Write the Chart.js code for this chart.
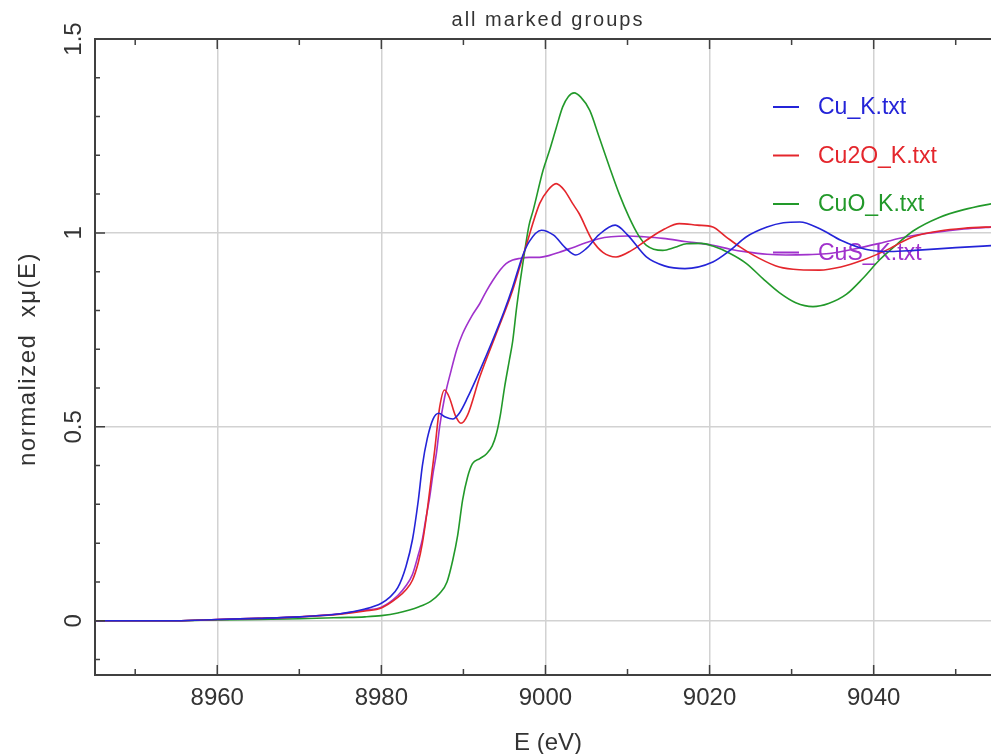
<!DOCTYPE html>
<html>
<head>
<meta charset="utf-8">
<script src="https://cdn.jsdelivr.net/npm/chart.js@4.4.1/dist/chart.umd.min.js"></script>
<style>
  html, body { margin: 0; padding: 0; background: #fff; }
  #wrap { width: 991px; height: 754px; }
</style>
</head>
<body>
<div id="wrap"><canvas id="myChart" width="991" height="754"></canvas></div>
<script>
// Cu K-edge spectra
const seriesNames = ['Cu_K.txt', 'Cu2O_K.txt', 'CuO_K.txt', 'CuS_K.txt'];
const seriesColors = ['#2424d8', '#e4262c', '#22992a', '#a032cc'];

const cuE  = [8945, 8955, 8960, 8965, 8970, 8975, 8978, 8980, 8981, 8982, 8983, 8983.8, 8984.5, 8985, 8985.6, 8986.3, 8987, 8987.8, 8988.7, 8989.5, 8990.5, 8992, 8993.5, 8995, 8996, 8997.2, 8998, 8999.5, 9001, 9002.5, 9003.7, 9005, 9006.5, 9008.5, 9010, 9012.3, 9014.5, 9017, 9020.4, 9022.5, 9024.5, 9027, 9029, 9031, 9033.5, 9036, 9039, 9042, 9045, 9050, 9055];
const cuMu = [0, 0, 0.003, 0.006, 0.01, 0.018, 0.03, 0.045, 0.06, 0.085, 0.14, 0.21, 0.31, 0.40, 0.47, 0.52, 0.535, 0.525, 0.52, 0.535, 0.575, 0.645, 0.72, 0.80, 0.86, 0.94, 0.977, 1.007, 0.994, 0.96, 0.943, 0.96, 0.995, 1.02, 0.995, 0.938, 0.915, 0.908, 0.925, 0.955, 0.99, 1.015, 1.026, 1.028, 1.01, 0.981, 0.958, 0.952, 0.955, 0.962, 0.968];

const cu2oE  = [8945, 8955, 8960, 8965, 8970, 8975, 8978, 8980, 8982, 8983, 8983.8, 8984.5, 8985, 8985.5, 8985.9, 8986.5, 8987.1, 8987.7, 8988.3, 8989, 8989.7, 8990.5, 8992, 8994, 8996, 8997.6, 8999.3, 9000.3, 9001.3, 9002.3, 9003.3, 9004.1, 9005.7, 9007, 9008.6, 9010.5, 9012.3, 9014.5, 9016.3, 9018.5, 9020.4, 9022, 9023.7, 9026, 9028.5, 9031, 9033.4, 9036, 9038.7, 9041.5, 9044.8, 9048, 9051, 9055];
const cu2oMu = [0, 0, 0.003, 0.006, 0.01, 0.017, 0.025, 0.033, 0.06, 0.08, 0.105, 0.15, 0.20, 0.27, 0.337, 0.44, 0.55, 0.595, 0.575, 0.53, 0.509, 0.53, 0.629, 0.74, 0.852, 0.964, 1.076, 1.11, 1.127, 1.11, 1.076, 1.05, 0.981, 0.95, 0.938, 0.955, 0.981, 1.01, 1.024, 1.02, 1.015, 0.99, 0.964, 0.935, 0.912, 0.905, 0.904, 0.912, 0.93, 0.955, 0.99, 1.005, 1.012, 1.016];

const cuoE  = [8945, 8955, 8960, 8965, 8970, 8975, 8978, 8980, 8982, 8984.6, 8986, 8987.1, 8988, 8988.7, 8989.3, 8989.9, 8990.5, 8991.1, 8992, 8992.8, 8993.5, 8994, 8994.5, 8995, 8995.6, 8996, 8996.5, 8997.2, 8998, 8998.5, 8999.7, 9000.5, 9001.3, 9002.1, 9002.8, 9003.5, 9004.3, 9005.4, 9006.5, 9007.8, 9009, 9010.2, 9011.3, 9012.3, 9014.3, 9015.8, 9017.2, 9019, 9020.4, 9022.5, 9024.5, 9026.5, 9028.5, 9030.5, 9032.6, 9034.5, 9036.7, 9038.7, 9040.7, 9042.8, 9044.8, 9048, 9051, 9055];
const cuoMu = [0, 0, 0.002, 0.003, 0.005, 0.008, 0.01, 0.013, 0.02, 0.036, 0.05, 0.07, 0.10, 0.156, 0.22, 0.311, 0.37, 0.405, 0.418, 0.43, 0.45, 0.48, 0.53, 0.60, 0.672, 0.72, 0.81, 0.915, 1.02, 1.058, 1.161, 1.213, 1.27, 1.325, 1.352, 1.361, 1.35, 1.316, 1.25, 1.17, 1.10, 1.04, 0.995, 0.968, 0.955, 0.963, 0.972, 0.973, 0.966, 0.947, 0.921, 0.882, 0.846, 0.82, 0.81, 0.818, 0.842, 0.883, 0.93, 0.97, 1.005, 1.04, 1.06, 1.078];

const cusE  = [8945, 8955, 8960, 8965, 8970, 8975, 8978, 8980, 8982, 8983, 8983.8, 8984.5, 8985, 8985.4, 8985.9, 8986.3, 8986.7, 8987.1, 8987.7, 8988.5, 8989.2, 8989.9, 8991, 8992, 8992.8, 8993.6, 8994.5, 8995.2, 8996, 8996.8, 8998, 8999.3, 9000.5, 9001.7, 9003.3, 9005, 9006.5, 9008, 9010, 9012, 9014.3, 9017, 9020.4, 9022.5, 9024.5, 9027, 9029.3, 9032, 9034.6, 9037.5, 9040.7, 9044, 9047, 9051, 9055];
const cusMu = [0, 0, 0.003, 0.006, 0.01, 0.018, 0.027, 0.035, 0.065, 0.09, 0.12, 0.17, 0.21, 0.26, 0.32, 0.38, 0.43, 0.50, 0.575, 0.645, 0.70, 0.74, 0.785, 0.818, 0.85, 0.878, 0.905, 0.921, 0.93, 0.934, 0.937, 0.937, 0.942, 0.95, 0.962, 0.975, 0.985, 0.99, 0.992, 0.99, 0.986, 0.978, 0.968, 0.958, 0.951, 0.945, 0.943, 0.944, 0.947, 0.958, 0.973, 0.99, 1.0, 1.01, 1.016];

const xTickLabels = [8960, 8980, 9000, 9020, 9040];
const yTickLabels = [0, 0.5, 1, 1.5];

const energies = [cuE, cu2oE, cuoE, cusE];
const values = [cuMu, cu2oMu, cuoMu, cusMu];

const FONT = '"Liberation Sans", Arial, sans-serif';

function isMajorX(v) { return Math.abs(v / 20 - Math.round(v / 20)) < 1e-6; }
function isMajorY(v) { return Math.abs(v * 2 - Math.round(v * 2)) < 1e-6; }

// frame, inward ticks, legend and all the text around the plot
const decor = {
    id: 'decor',
    beforeDatasetsDraw(chart) {
        const { ctx } = chart;
        ctx.save();
        ctx.font = '23px ' + FONT;
        ctx.textBaseline = 'middle';
        ctx.textAlign = 'left';
        seriesNames.forEach((name, i) => {
            const cy = 107 + i * 48.5;
            ctx.strokeStyle = seriesColors[i];
            ctx.lineWidth = 2;
            ctx.beginPath();
            ctx.moveTo(773, cy);
            ctx.lineTo(799, cy);
            ctx.stroke();
            ctx.fillStyle = seriesColors[i];
            ctx.fillText(name, 818, cy + 1);
        });
        ctx.restore();
    },
    afterDatasetsDraw(chart) {
        const { ctx, chartArea: a, scales: { x, y } } = chart;
        ctx.save();
        ctx.strokeStyle = '#404040';
        ctx.lineWidth = 2;
        ctx.beginPath();
        ctx.moveTo(a.right, a.top);
        ctx.lineTo(a.left, a.top);
        ctx.lineTo(a.left, a.bottom);
        ctx.lineTo(a.right, a.bottom);
        ctx.stroke();

        ctx.lineWidth = 1.5;
        ctx.beginPath();
        x.ticks.forEach(t => {
            const px = x.getPixelForValue(t.value);
            const len = isMajorX(t.value) ? 10 : 6;
            ctx.moveTo(px, a.top); ctx.lineTo(px, a.top + len);
            ctx.moveTo(px, a.bottom); ctx.lineTo(px, a.bottom - len);
        });
        y.ticks.forEach(t => {
            const py = y.getPixelForValue(t.value);
            const len = isMajorY(t.value) ? 10 : 5;
            ctx.moveTo(a.left, py); ctx.lineTo(a.left + len, py);
        });
        ctx.stroke();
        ctx.restore();
    },
    afterDraw(chart) {
        const { ctx, scales: { x, y } } = chart;
        ctx.save();
        ctx.fillStyle = '#333';
        ctx.textAlign = 'center';
        ctx.textBaseline = 'middle';

        // title
        ctx.font = '20px ' + FONT;
        ctx.letterSpacing = '2px';
        ctx.fillText('all marked groups', 548, 20);

        // x tick labels and title
        ctx.letterSpacing = '0px';
        ctx.font = '24px ' + FONT;
        xTickLabels.forEach(v => {
            ctx.fillText(String(v), x.getPixelForValue(v), 698);
        });
        ctx.fillText('E (eV)', 548, 743);

        // y tick labels, turned
        yTickLabels.forEach(v => {
            ctx.save();
            ctx.translate(74, y.getPixelForValue(v));
            ctx.rotate(-Math.PI / 2);
            ctx.fillText(String(v), 0, 0);
            ctx.restore();
        });

        ctx.save();
        ctx.translate(28, 359);
        ctx.rotate(-Math.PI / 2);
        ctx.letterSpacing = '1.5px';
        ctx.fillText('normalized  x\u03bc(E)', 0, 0);
        ctx.restore();

        ctx.restore();
    }
};

const ctx = document.getElementById('myChart').getContext('2d');

new Chart(ctx, {
    type: 'line',
    data: {
        datasets: seriesNames.map((name, i) => ({
            label: name,
            data: energies[i].map((e, j) => ({ x: e, y: values[i][j] })),
            borderColor: seriesColors[i],
            borderWidth: 1.6,
            pointRadius: 0,
            fill: false,
            cubicInterpolationMode: 'monotone'
        }))
    },
    options: {
        responsive: false,
        animation: false,
        devicePixelRatio: 1,
        layout: { padding: { left: 95, top: 39, right: 0, bottom: 79 } },
        plugins: {
            legend: { display: false },
            title: { display: false },
            tooltip: { enabled: false }
        },
        scales: {
            x: {
                type: 'linear',
                min: 8945.1,
                max: 9054.3,
                afterBuildTicks: axis => {
                    const t = [];
                    for (let v = 8950; v <= 9050; v += 10) t.push({ value: v });
                    axis.ticks = t;
                },
                ticks: { display: false },
                border: { display: false },
                grid: {
                    drawTicks: false,
                    lineWidth: 1.5,
                    color: c => isMajorX(c.tick.value) ? '#d2d2d2' : 'rgba(0,0,0,0)'
                }
            },
            y: {
                type: 'linear',
                min: -0.14,
                max: 1.5,
                afterBuildTicks: axis => {
                    const t = [];
                    for (let k = -1; k <= 15; k++) t.push({ value: k / 10 });
                    axis.ticks = t;
                },
                ticks: { display: false },
                border: { display: false },
                grid: {
                    drawTicks: false,
                    lineWidth: 1.5,
                    color: c => isMajorY(c.tick.value) ? '#d2d2d2' : 'rgba(0,0,0,0)'
                }
            }
        }
    },
    plugins: [decor]
});
</script>
</body>
</html>
